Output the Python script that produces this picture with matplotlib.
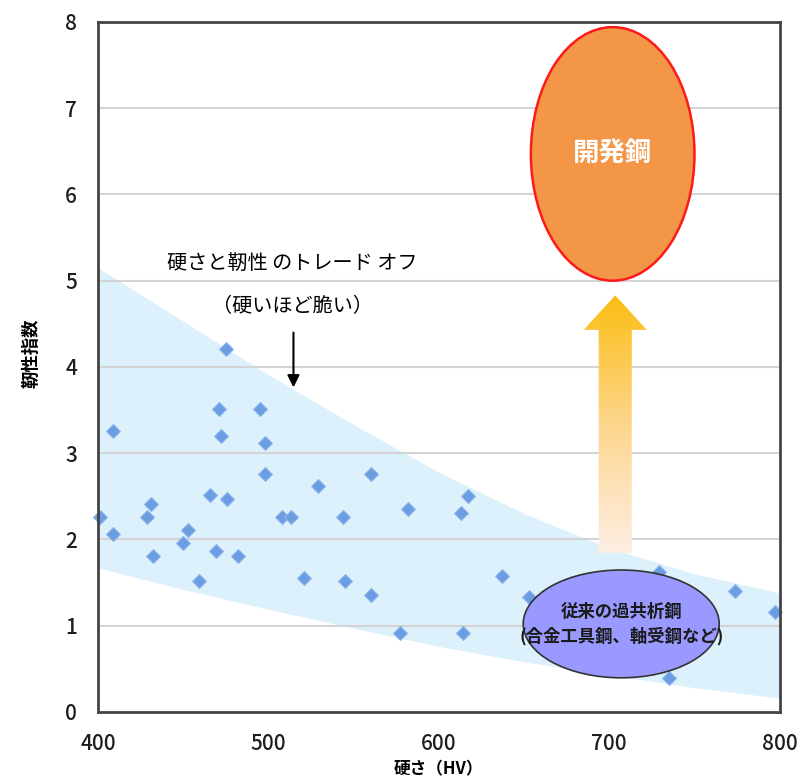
import numpy as np
import matplotlib
matplotlib.use('Agg')
import matplotlib.pyplot as plt
from matplotlib.patches import Ellipse, Polygon
from matplotlib.colors import LinearSegmentedColormap

plt.rcParams['font.family'] = ['Noto Sans CJK JP', 'DejaVu Sans']

# measured points (hardness HV, toughness index)
hv = [401, 409, 409, 429, 431, 432, 450, 453, 459, 466, 469, 471, 472, 475, 476,
      482, 495, 498, 498, 508, 513, 521, 529, 544, 545, 560, 560, 577, 582, 613,
      617, 614, 637, 653, 729, 735, 774, 797]
toughness = [2.26, 3.26, 2.06, 2.26, 2.41, 1.81, 1.96, 2.11, 1.52, 2.52, 1.87, 3.51,
             3.20, 4.21, 2.47, 1.81, 3.51, 3.12, 2.76, 2.26, 2.26, 1.55, 2.62, 2.26,
             1.52, 2.76, 1.36, 0.92, 2.35, 2.31, 2.50, 0.92, 1.57, 1.33, 1.62, 0.39,
             1.40, 1.16]

# trade-off band
band_x = [400, 450, 500, 550, 600, 650, 700, 750, 800]
band_upper = [5.15, 4.53, 3.91, 3.33, 2.78, 2.30, 1.90, 1.60, 1.38]
band_lower = [1.67, 1.42, 1.19, 0.97, 0.76, 0.58, 0.43, 0.28, 0.16]

x_ticks = [400, 500, 600, 700, 800]
y_ticks = [0, 1, 2, 3, 4, 5, 6, 7, 8]

fig = plt.figure(figsize=(8.03, 7.84), dpi=100)
ax = fig.add_axes([0.122, 0.092, 0.849, 0.880])

ax.fill_between(band_x, band_lower, band_upper, color='#dcf1fc', lw=0, zorder=1)
for yv in y_ticks[1:-1]:
    ax.axhline(yv, color='#d4d4d4', lw=1.5, zorder=2)

ax.plot(hv, toughness, 'D', ms=7.5, color='#6b9de2', mec='#8fb5ea', mew=0.8,
        zorder=3, clip_on=False)

# developed steel
ax.add_patch(Ellipse((702, 6.47), 96, 2.94, fc='#f39647', ec='#ff1a1a', lw=1.8, zorder=5))
ax.text(702, 6.47, '開発鋼', ha='center', va='center', color='white',
        fontsize=19, fontweight='bold', zorder=6)

# gradient arrow
ax_c, tip, hb, bot = 703.5, 4.83, 4.43, 1.84
sw, hw = 9.7, 18.5
arrow = Polygon([(ax_c - sw, bot), (ax_c - sw, hb), (ax_c - hw, hb), (ax_c, tip),
                 (ax_c + hw, hb), (ax_c + sw, hb), (ax_c + sw, bot)],
                closed=True, fc='none', ec='none')
ax.add_patch(arrow)
cmap = LinearSegmentedColormap.from_list('arr', ['#fdeee4', '#fdd68c', '#fbbd12'])
grad = np.linspace(1, 0, 256).reshape(-1, 1)
im = ax.imshow(grad, cmap=cmap, extent=[ax_c - hw, ax_c + hw, bot, tip],
               aspect='auto', zorder=4)
im.set_clip_path(arrow)

# conventional steel
ax.add_patch(Ellipse((707, 1.02), 115, 1.25, fc='#9999ff', ec='#333333', lw=1.2, zorder=5))
ax.text(707, 1.02, '従来の過共析鋼\n(合金工具鋼、軸受鋼など)', ha='center', va='center',
        fontsize=12.5, fontweight='bold', color='#1a1a1a', linespacing=1.4, zorder=6)

ax.text(514, 5.2, '硬さと靭性 のトレード オフ', ha='center', va='center', fontsize=14.5, zorder=6)
ax.text(514, 4.7, '（硬いほど脆い）', ha='center', va='center', fontsize=14.5, zorder=6)
ax.annotate('', xy=(514.7, 3.73), xytext=(514.7, 4.43),
            arrowprops=dict(arrowstyle='-|>', color='black', lw=1.5, mutation_scale=18), zorder=6)

ax.set_xlim(400, 800)
ax.set_ylim(0, 8)
ax.set_xticks(x_ticks)
ax.set_yticks(y_ticks)
ax.tick_params(length=0, labelsize=15, colors='#1e1e1e', pad=15)
for lab in ax.get_xticklabels() + ax.get_yticklabels():
    lab.set_fontweight('medium')
for s in ax.spines.values():
    s.set_color('#444444')
    s.set_linewidth(2)
    s.set_zorder(7)

ax.set_xlabel('硬さ（HV）', fontsize=12, fontweight='bold', labelpad=4)
ax.set_ylabel('靭性指数', fontsize=12.5, fontweight='bold')
ax.yaxis.set_label_coords(-0.085, 0.52)

fig.savefig('out.png', dpi=100)
